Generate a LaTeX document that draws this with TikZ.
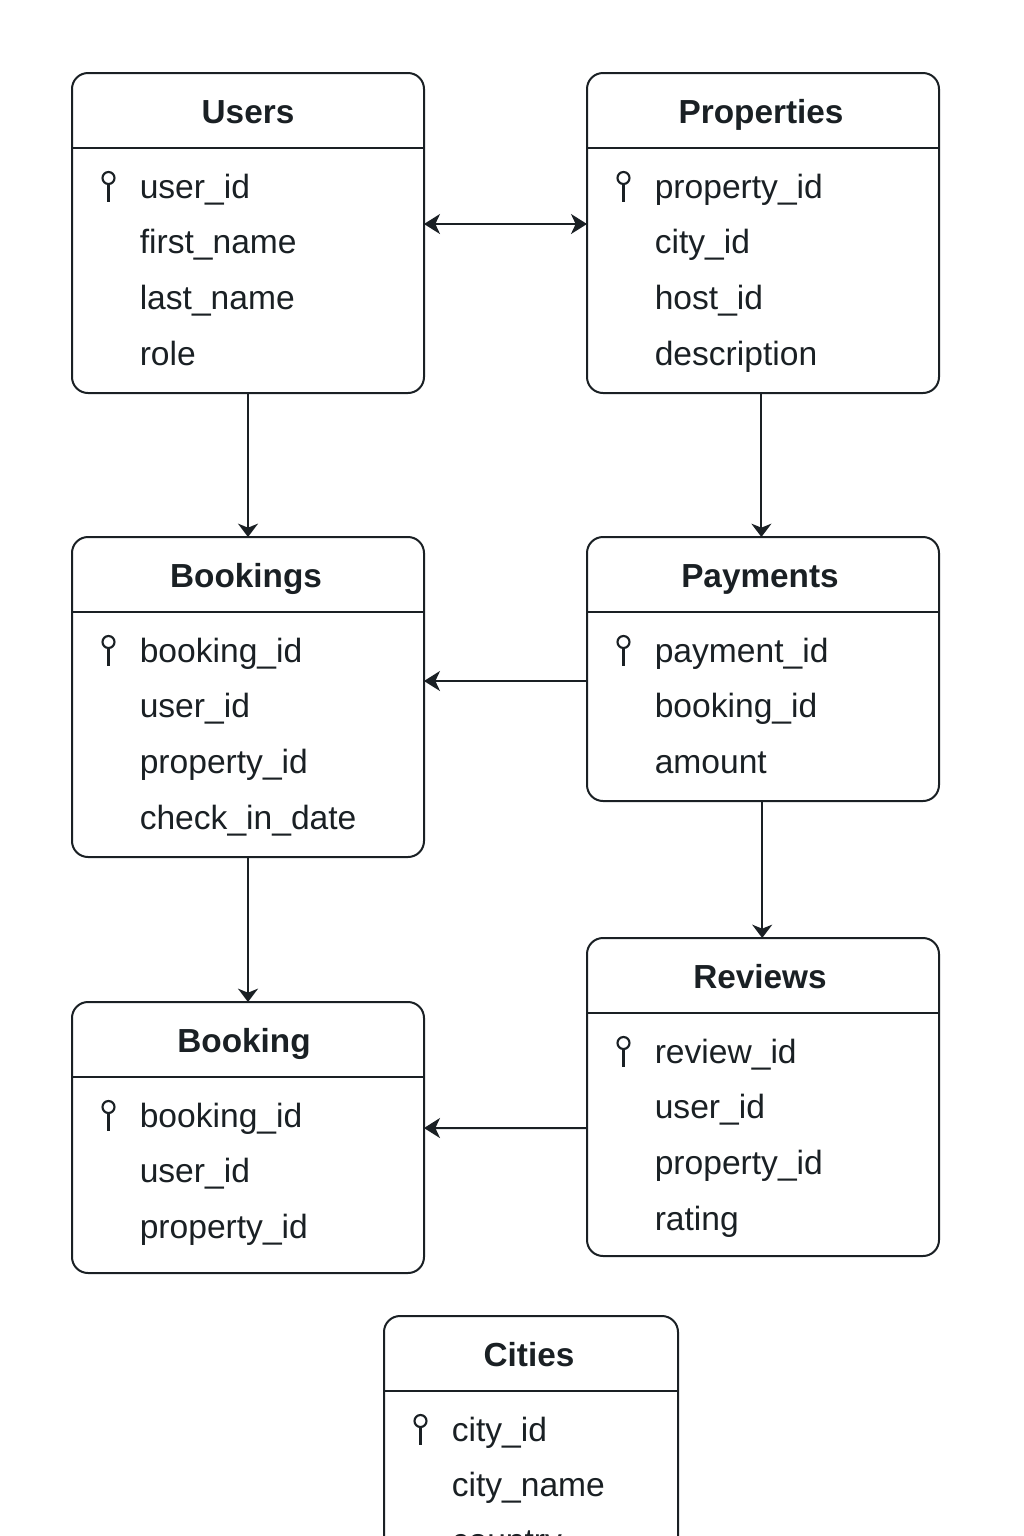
\documentclass[tikz,border=0pt]{standalone}
\usepackage{fontspec}
\setmainfont{Liberation Sans}
\usetikzlibrary{calc,fit,arrows.meta}
\definecolor{inkline}{HTML}{1A2024}

\tikzset{
     tbl/.style = {draw=inkline, rectangle, rounded corners=12pt, line width=1.5pt, inner sep=0pt, outer sep=0pt},
     tbltitle/.style = {anchor=base, text=inkline, font=\fontsize{25}{28}\selectfont\bfseries},
     tblfield/.style = {anchor=base west, inner sep=0pt, text=inkline, font=\fontsize{25.2}{28}\selectfont},
     rule/.style = {draw=inkline, line width=1.5pt},
     link/.style = {draw=inkline, line width=1.5pt, -{Stealth[length=10pt,width=15pt,inset=3pt]}},
     sidelink/.style = {draw=inkline, line width=1.5pt, -{Stealth[length=12pt,width=15pt,inset=3.5pt]}},
     keyicon/.pic = {
       \draw[inkline, line width=1.6pt] (0,-8) circle (4.5pt);
       \draw[inkline, line width=1.6pt] (0,-2) -- (0,16);
     }
}

% name, left, top, right, bottom, title x, title, fields
\newcommand{\tblbox}[8]{
    \node [tbl, fit={(#2,#3)(#4,#5)}] (#1) {};
    \node [tbltitle] (#1title) at (#6,{#3+50.5}) {#7};
    \draw [rule] (#2,{#3+75}) -- (#4,{#3+75});
    \pic at ({#2+36.5},{#3+113}) {keyicon};
    \foreach \f [count=\i] in {#8}
        \node [tblfield] (#1field\i) at ({#2+67.5},{#3+125+(\i-1)*55.8}) {\f};
}

\begin{document}
\begin{tikzpicture}[x=0.75pt,y=-0.75pt]
    \useasboundingbox (0,0) rectangle (1024,1536);

    \tblbox{users}{72}{73}{424}{393}{248}{Users}{user\_id,first\_name,last\_name,role}
    \tblbox{properties}{587}{73}{939}{393}{761}{Properties}{property\_id,city\_id,host\_id,description}
    \tblbox{bookings}{72}{537}{424}{857}{246}{Bookings}{booking\_id,user\_id,property\_id,check\_in\_date}
    \tblbox{payments}{587}{537}{939}{801}{760}{Payments}{payment\_id,booking\_id,amount}
    \tblbox{reviews}{587}{938}{939}{1256}{760}{Reviews}{review\_id,user\_id,property\_id,rating}
    \tblbox{booking}{72}{1002}{424}{1273}{244}{Booking}{booking\_id,user\_id,property\_id}
    \tblbox{cities}{384}{1316}{678}{1640}{529}{Cities}{city\_id,city\_name,country}

    \draw[sidelink, {Stealth[length=12pt,width=15pt,inset=3.5pt]}-{Stealth[length=12pt,width=15pt,inset=3.5pt]}] ([yshift=6.75pt]users.east) -- ([yshift=6.75pt]properties.west);
    \draw[link] (users.south) -- (bookings.north);
    \draw[link] ([xshift=-1.2pt]properties.south) -- ([xshift=-1.2pt]payments.north);
    \draw[sidelink] ([yshift=-9pt]payments.west) -- ([yshift=12pt]bookings.east);
    \draw[link] ([xshift=-0.6pt]payments.south) -- ([xshift=-0.6pt]reviews.north);
    \draw[sidelink] ([yshift=-23.25pt]reviews.west) -- ([yshift=7.1pt]booking.east);
    \draw[link] (bookings.south) -- (booking.north);

\end{tikzpicture}
\end{document}
